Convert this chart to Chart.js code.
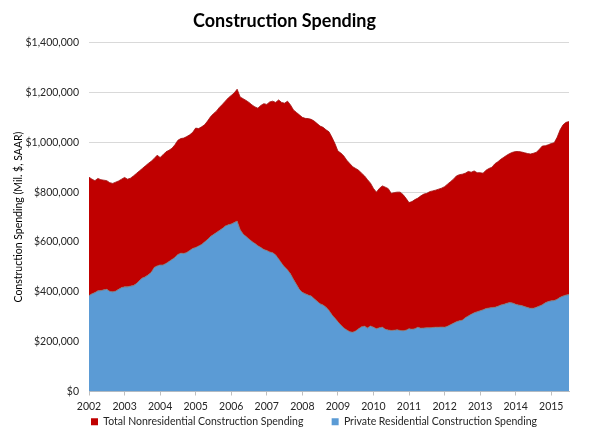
<!DOCTYPE html>
<html>
<head>
<meta charset="utf-8">
<script src="https://cdn.jsdelivr.net/npm/chart.js@4.4.1/dist/chart.umd.min.js"></script>
<style>
  html, body { margin: 0; padding: 0; background: #fff; }
  #wrap { width: 589px; height: 442px; }
</style>
</head>
<body>
<div id="wrap"><canvas id="spendingChart" width="589" height="442"></canvas></div>
<script>
// monthly, Jan 2002 .. Jul 2015 (Mil. $, SAAR)
var years = [2002, 2003, 2004, 2005, 2006, 2007, 2008, 2009, 2010, 2011, 2012, 2013, 2014, 2015];
var monthNames = ['Jan', 'Feb', 'Mar', 'Apr', 'May', 'Jun', 'Jul', 'Aug', 'Sep', 'Oct', 'Nov', 'Dec'];

// top of the red area = residential + nonresidential
var totalSpending = [
  860000, 852000, 846000, 855000, 850000, 848000, 846000, 838000, 835000, 840000, 845000, 852000,
  859000, 852000, 856000, 865000, 875000, 885000, 895000, 905000, 915000, 924000, 935000, 948000,
  939000, 950000, 962000, 968000, 976000, 990000, 1008000, 1015000, 1017000, 1023000, 1030000, 1040000,
  1057000, 1055000, 1062000, 1070000, 1085000, 1102000, 1115000, 1125000, 1140000, 1152000, 1165000, 1178000,
  1188000, 1198000, 1213000, 1182000, 1175000, 1168000, 1160000, 1150000, 1142000, 1137000, 1148000, 1155000,
  1152000, 1162000, 1165000, 1160000, 1170000, 1160000, 1157000, 1165000, 1150000, 1130000, 1120000, 1110000,
  1100000, 1096000, 1095000, 1092000, 1085000, 1075000, 1065000, 1060000, 1050000, 1042000, 1020000, 995000,
  965000, 957000, 945000, 928000, 915000, 902000, 895000, 888000, 876000, 865000, 850000, 836000,
  815000, 800000, 815000, 825000, 820000, 814000, 795000, 798000, 800000, 800000, 790000, 775000,
  758000, 762000, 770000, 776000, 785000, 792000, 795000, 802000, 805000, 808000, 812000, 816000,
  822000, 832000, 842000, 852000, 865000, 870000, 872000, 876000, 883000, 880000, 885000, 878000,
  878000, 876000, 888000, 895000, 900000, 914000, 922000, 932000, 940000, 948000, 955000, 960000,
  963000, 963000, 961000, 958000, 955000, 953000, 956000, 960000, 972000, 985000, 986000, 990000,
  995000, 998000, 1020000, 1050000, 1070000, 1080000, 1083000
];

var residentialSpending = [
  385000, 392000, 397000, 404000, 405000, 408000, 410000, 402000, 400000, 403000, 410000, 417000,
  420000, 420000, 423000, 425000, 433000, 445000, 455000, 460000, 468000, 478000, 498000, 504000,
  508000, 508000, 514000, 522000, 530000, 538000, 550000, 555000, 554000, 558000, 566000, 574000,
  578000, 584000, 590000, 600000, 610000, 622000, 630000, 638000, 646000, 654000, 664000, 669000,
  672000, 678000, 684000, 650000, 632000, 622000, 612000, 602000, 594000, 585000, 578000, 570000,
  566000, 560000, 557000, 548000, 532000, 515000, 500000, 488000, 472000, 450000, 430000, 410000,
  398000, 392000, 387000, 383000, 372000, 362000, 352000, 347000, 338000, 325000, 308000, 294000,
  280000, 267000, 255000, 247000, 240000, 238000, 243000, 252000, 260000, 262000, 255000, 263000,
  258000, 252000, 256000, 258000, 250000, 247000, 245000, 246000, 248000, 245000, 244000, 246000,
  252000, 250000, 252000, 258000, 254000, 255000, 256000, 256000, 257000, 258000, 258000, 259000,
  258000, 262000, 268000, 274000, 280000, 284000, 286000, 296000, 303000, 310000, 316000, 320000,
  324000, 328000, 333000, 335000, 337000, 338000, 342000, 347000, 350000, 354000, 357000, 355000,
  350000, 347000, 345000, 341000, 337000, 334000, 334000, 338000, 343000, 348000, 356000, 361000,
  364000, 365000, 370000, 378000, 383000, 387000, 389000
];

var yTicks = [0, 200000, 400000, 600000, 800000, 1000000, 1200000, 1400000];

var monthLabels = [];
years.forEach(function (y) {
  monthNames.forEach(function (m) {
    if (monthLabels.length < totalSpending.length) monthLabels.push(m + ' ' + y);
  });
});

var FONT = 'Lato, "Open Sans", sans-serif';
var TEXT = '#262626';
var RED = '#C00000';
var BLUE = '#5B9BD5';

function money(v) {
  return '$' + Number(v).toLocaleString('en-US');
}

var ctx = document.getElementById('spendingChart').getContext('2d');
var chart = new Chart(ctx, {
  type: 'line',
  data: {
    labels: monthLabels,
    datasets: [{
      label: 'Private Residential Construction Spending',
      data: residentialSpending,
      backgroundColor: BLUE,
      borderColor: '#8a6a60',
      borderWidth: 0.8,
      pointRadius: 0,
      fill: 'origin',
      order: 1
    }, {
      label: 'Total Nonresidential Construction Spending',
      data: totalSpending,
      backgroundColor: RED,
      borderColor: '#a01010',
      borderWidth: 0.8,
      pointRadius: 0,
      fill: '-1',
      order: 2
    }]
  },
  options: {
    responsive: false,
    animation: false,
    layout: { padding: { left: 0, right: 20, top: 0, bottom: 5 } },
    plugins: {
      title: {
        display: true,
        text: 'Construction Spending',
        color: '#000',
        font: { family: FONT, size: 18, weight: 'bold' },
        padding: { top: 10, bottom: 11 }
      },
      legend: {
        position: 'bottom',
        fullSize: false,
        align: 'start',
        reverse: true,
        labels: {
          boxWidth: 7,
          boxHeight: 7,
          padding: 2,
          color: TEXT,
          font: { family: FONT, size: 10.5 },
          generateLabels: function (c) {
            var items = Chart.defaults.plugins.legend.labels.generateLabels(c);
            items.forEach(function (it) {
              it.strokeStyle = it.fillStyle;
              it.lineWidth = 0;
              // gap before the next legend entry
              if (it.datasetIndex === 1) it.text += '\u2002\u2002\u2002\u2002\u2002';
            });
            return items;
          }
        }
      },
      tooltip: { enabled: false }
    },
    scales: {
      x: {
        type: 'category',
        offset: false,
        afterFit: function (axis) { axis.height = 23; },
        grid: {
          display: true,
          drawOnChartArea: false,
          drawTicks: true,
          tickLength: 4,
          color: '#bfbfbf'
        },
        border: { display: true, color: '#bfbfbf' },
        ticks: {
          autoSkip: false,
          maxRotation: 0,
          minRotation: 0,
          padding: 5,
          color: TEXT,
          font: { family: FONT, size: 10.5 },
          callback: function (value) {
            var lab = this.getLabelForValue(value);
            return lab.indexOf('Jan') === 0 ? lab.slice(4) : null;
          }
        }
      },
      y: {
        min: yTicks[0],
        max: yTicks[yTicks.length - 1],
        afterFit: function (axis) { axis.width = 89; },
        grid: { color: '#d9d9d9', drawTicks: false },
        border: { display: false },
        afterBuildTicks: function (axis) {
          axis.ticks = yTicks.map(function (v) { return { value: v }; });
        },
        ticks: {
          padding: 10,
          color: TEXT,
          font: { family: FONT, size: 10.5 },
          callback: function (v) { return money(v); }
        },
        title: {
          display: true,
          text: 'Construction Spending (Mil. $, SAAR)',
          color: '#000',
          font: { family: FONT, size: 10.5 },
          padding: { top: 12, bottom: 0 }
        }
      }
    }
  }
});
</script>
</body>
</html>
